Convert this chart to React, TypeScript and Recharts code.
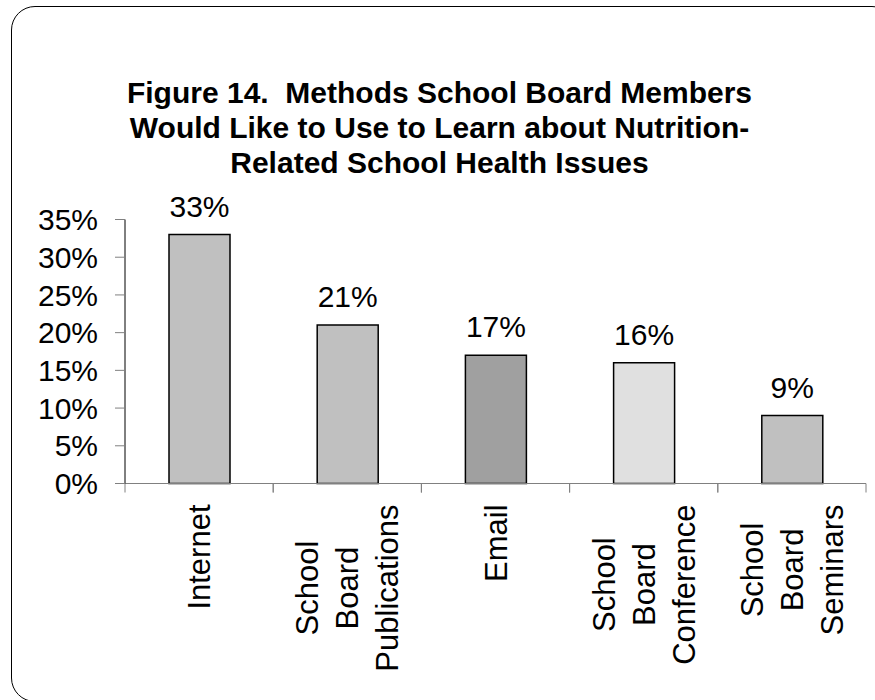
import React from "react";
import { BarChart, Bar, XAxis, YAxis, Cell, LabelList } from "recharts";

const CATEGORIES = [
  "Internet",
  "School\nBoard\nPublications",
  "Email",
  "School\nBoard\nConference",
  "School\nBoard\nSeminars",
];
const VALUES = [33, 21, 17, 16, 9];
const BAR_COLORS = ["#c0c0c0", "#c0c0c0", "#a0a0a0", "#e0e0e0", "#c0c0c0"];
const Y_TICKS = [0, 5, 10, 15, 20, 25, 30, 35];
const TITLE_LINES = [
  "Figure 14.  Methods School Board Members",
  "Would Like to Use to Learn about Nutrition-",
  "Related School Health Issues",
];

const FONT = "'Liberation Sans', Arial, Helvetica, sans-serif";
const W = 875;
const H = 700;
const PLOT_LEFT = 125;
const PLOT_RIGHT = 866;
const PLOT_TOP = 219.5;
const PLOT_BOTTOM = 483.5;
const Y_AXIS_W = 100;
const X_AXIS_H = 200;
const BAND = (PLOT_RIGHT - PLOT_LEFT) / CATEGORIES.length;
const LABEL_SIZE = 30;
const CAT_SIZE = 31;
const LINE_GAP = 40;

const data = CATEGORIES.map((c, i) => ({ name: c, value: VALUES[i] }));

let ctx: CanvasRenderingContext2D | null = null;
function textWidth(s: string) {
  if (!ctx) ctx = document.createElement("canvas").getContext("2d");
  if (!ctx) return s.length * CAT_SIZE * 0.55;
  ctx.font = `${CAT_SIZE}px ${FONT}`;
  return ctx.measureText(s).width;
}

function CategoryTick(props: any) {
  const { x, y, payload } = props;
  const lines = String(payload.value).split("\n");
  const maxW = Math.max(...lines.map(textWidth));
  const center = -(21 + maxW / 2);
  return (
    <g>
      <line x1={x - BAND / 2} y1={y} x2={x - BAND / 2} y2={y + 9} stroke="#808080" />
      <line x1={x + BAND / 2} y1={y} x2={x + BAND / 2} y2={y + 9} stroke="#808080" />
      <g transform={`translate(${x},${y}) rotate(-90)`}>
        {lines.map((ln, i) => (
          <text
            key={i}
            x={center}
            y={(i - (lines.length - 1) / 2) * LINE_GAP}
            dy="0.355em"
            textAnchor="middle"
            fontSize={CAT_SIZE}
            fontFamily={FONT}
            fill="#000"
          >
            {ln}
          </text>
        ))}
      </g>
    </g>
  );
}

export default function App() {
  return (
    <div
      style={{
        position: "absolute",
        left: 0,
        top: 0,
        width: W,
        height: H,
        overflow: "hidden",
        background: "#fff",
      }}
    >
      {/* rounded frame, right and bottom edges run off the picture */}
      <div
        style={{
          position: "absolute",
          left: 11,
          top: 6,
          width: 883,
          height: 694,
          border: "1.5px solid #000",
          borderRadius: 24,
        }}
      />
      <div
        style={{
          position: "absolute",
          left: 0,
          top: 75,
          width: W,
          textAlign: "center",
          fontFamily: FONT,
          fontWeight: "bold",
          fontSize: 30,
          lineHeight: "35px",
          whiteSpace: "pre",
          paddingLeft: 2,
        }}
      >
        {TITLE_LINES.map((t) => (
          <div key={t}>{t}</div>
        ))}
      </div>
      <div style={{ position: "absolute", left: 0, top: 0 }}>
        <BarChart
          width={W}
          height={H}
          data={data}
          margin={{
            top: PLOT_TOP,
            left: PLOT_LEFT - Y_AXIS_W,
            right: W - PLOT_RIGHT,
            bottom: H - PLOT_BOTTOM - X_AXIS_H,
          }}
          barSize={61}
        >
          <XAxis
            dataKey="name"
            height={X_AXIS_H}
            axisLine={{ stroke: "#808080" }}
            tickLine={false}
            tickSize={0}
            tickMargin={0}
            interval={0}
            tick={<CategoryTick />}
          />
          <YAxis
            width={Y_AXIS_W}
            domain={[0, 35]}
            ticks={Y_TICKS}
            interval={0}
            axisLine={{ stroke: "#000" }}
            tickLine={{ stroke: "#808080" }}
            tickSize={10}
            tickMargin={17}
            tickFormatter={(v: number) => `${v}%`}
            tick={{ fontSize: LABEL_SIZE, fontFamily: FONT, fill: "#000" }}
          />
          <Bar dataKey="value" stroke="#000" strokeWidth={1.5} isAnimationActive={false}>
            {data.map((d, i) => (
              <Cell key={d.name} fill={BAR_COLORS[i]} />
            ))}
            <LabelList
              dataKey="value"
              position="top"
              offset={18}
              formatter={(v: any) => `${v}%`}
              style={{ fontSize: LABEL_SIZE, fontFamily: FONT, fill: "#000" }}
            />
          </Bar>
        </BarChart>
      </div>
    </div>
  );
}
